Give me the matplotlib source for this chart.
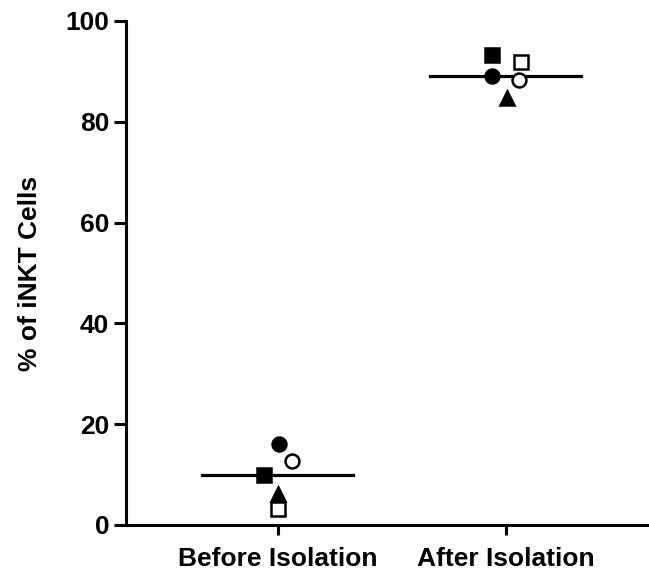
import matplotlib.pyplot as plt
import numpy as np

plt.rcParams['font.family'] = ['Liberation Sans', 'DejaVu Sans']
plt.rcParams['font.weight'] = 'bold'

groups = ['Before Isolation', 'After Isolation']

# one entry per donor: filled circle, open circle, filled square, triangle, open square
donor_markers = ['o', 'o', 's', '^', 's']
donor_filled = [True, False, True, True, False]

before_values = [16.0, 12.6, 9.9, 6.1, 3.1]
after_values = [89.0, 88.2, 93.3, 84.7, 91.9]

# small horizontal spread of points inside each group
before_offsets = [0.005, 0.065, -0.06, 0.0, 0.0]
after_offsets = [-0.06, 0.06, -0.06, 0.005, 0.065]

fig = plt.figure(figsize=(6.49, 5.77), dpi=100)
ax = fig.add_axes([126 / 649, 1 - 525 / 577, 522 / 649, 504 / 577])

for gi, (vals, offs) in enumerate([(before_values, before_offsets), (after_values, after_offsets)]):
    for v, off, m, filled in zip(vals, offs, donor_markers, donor_filled):
        ax.plot(gi + off, v, marker=m, markersize=10,
                markerfacecolor='black' if filled else 'white',
                markeredgecolor='black', markeredgewidth=1.8, linestyle='none',
                zorder=3, clip_on=False)
    med = np.median(vals)
    ax.plot([gi - 0.33, gi + 0.33], [med, med], color='black', linewidth=2.3, zorder=2)

ax.set_xlim(-0.665, 1.624)
ax.set_ylim(0, 100)
ax.set_yticks([0, 20, 40, 60, 80, 100])
ax.set_xticks([0, 1], labels=groups)
ax.tick_params(axis='y', length=9, width=2.2, labelsize=19, pad=3)
ax.tick_params(axis='x', length=7, width=2.2, labelsize=19, pad=9)
for lbl in ax.get_xticklabels() + ax.get_yticklabels():
    lbl.set_fontweight('bold')

for side in ['top', 'right']:
    ax.spines[side].set_visible(False)
for side in ['left', 'bottom']:
    ax.spines[side].set_linewidth(2.2)

ax.set_ylabel('% of iNKT Cells', fontsize=19, fontweight='bold', labelpad=17)

fig.savefig('out.png', dpi=100)
